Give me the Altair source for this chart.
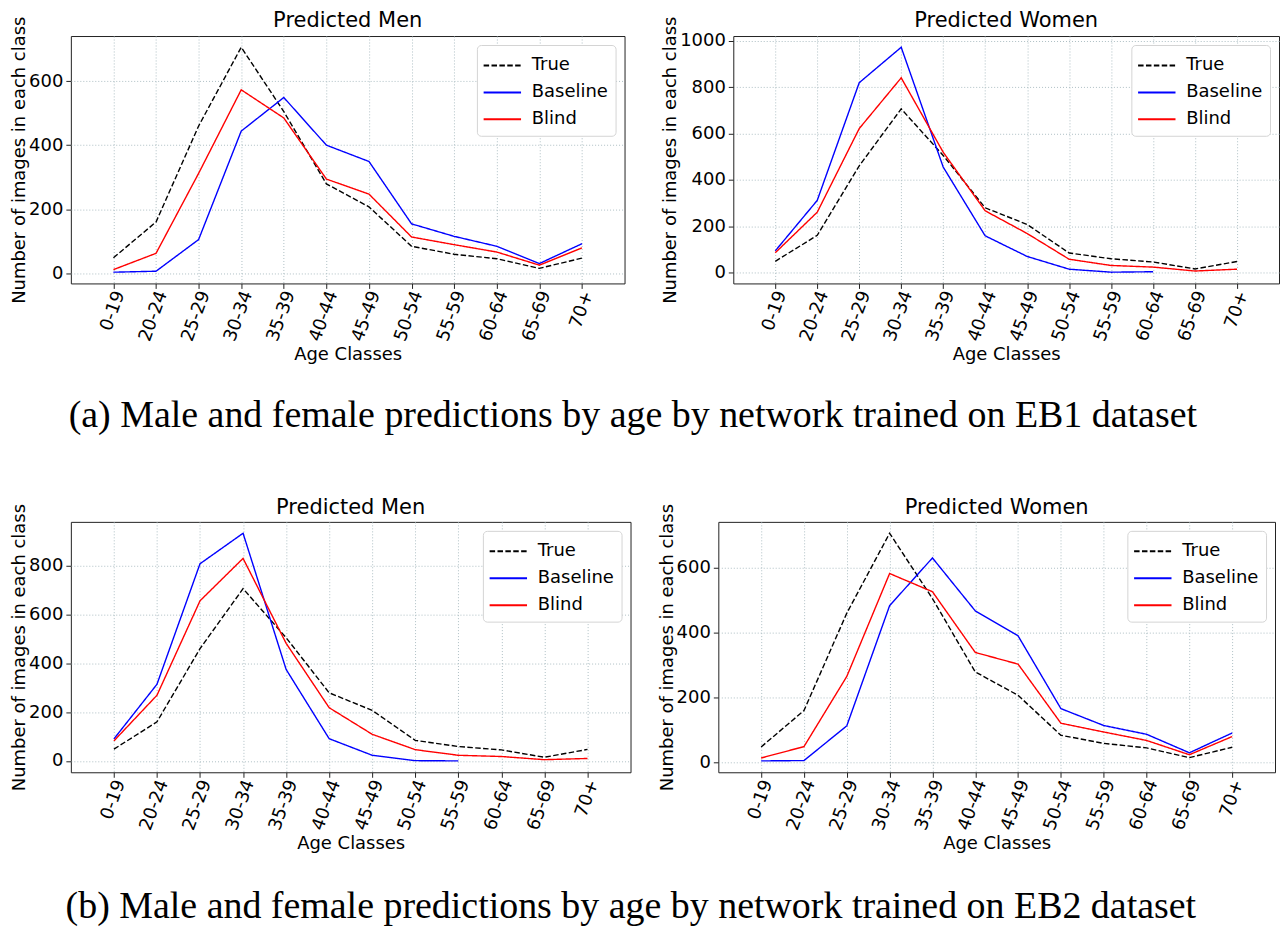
import altair as alt
import pandas as pd

# ---------------- data ----------------
ages = ["0-19", "20-24", "25-29", "30-34", "35-39", "40-44",
        "45-49", "50-54", "55-59", "60-64", "65-69", "70+"]
series_names = ["True", "Baseline", "Blind"]

true_counts = [48, 160, 460, 706, 505, 279, 207, 84, 59, 45, 15, 47]

eb1_men_baseline = [3, 6, 105, 444, 549, 400, 349, 154, 115, 84, 30, 92]
eb1_men_blind = [11, 62, 312, 573, 485, 294, 247, 113, 89, 66, 25, 79]

eb1_women_baseline = [93, 311, 819, 972, 455, 158, 69, 14, 1, 3, None, None]
eb1_women_blind = [85, 260, 621, 840, 519, 266, 168, 57, 30, 23, 6, 14]

eb2_men_baseline = [90, 314, 808, 933, 375, 91, 23, 1, 0, None, None, None]
eb2_men_blind = [82, 269, 656, 830, 482, 218, 109, 46, 23, 18, 5, 10]

eb2_women_baseline = [5, 6, 113, 483, 630, 467, 390, 166, 114, 87, 30, 91]
eb2_women_blind = [14, 49, 265, 582, 526, 339, 303, 121, 94, 68, 24, 80]

yticks_600 = [0, 200, 400, 600]
yticks_800 = [0, 200, 400, 600, 800]
yticks_1000 = [0, 200, 400, 600, 800, 1000]

caption_a = "(a) Male and female predictions by age by network trained on EB1 dataset"
caption_b = "(b) Male and female predictions by age by network trained on EB2 dataset"

FONT = "DejaVu Sans"


def panel(title, baseline, blind, width, height, yticks):
    rows = []
    for name, vals in zip(series_names, [true_counts, baseline, blind]):
        for i, (a, v) in enumerate(zip(ages, vals)):
            if v is not None:
                rows.append({"age": a, "idx": i, "series": name, "count": v})
    df = pd.DataFrame(rows)
    allv = df["count"]
    lo, hi = allv.min(), allv.max()
    m = 0.05 * (hi - lo)

    leg = alt.Legend(
        title=None, orient="top-right", offset=9,
        symbolType="M-1.5,0H1.5", symbolSize=625, symbolStrokeWidth=2,
        symbolOffset=5,
        labelFont=FONT, labelFontSize=18, labelColor="black", labelOffset=16,
        fillColor="white", strokeColor="#d4d4d4", cornerRadius=4,
        padding=7, rowPadding=4,
    )
    return alt.Chart(df).mark_line(strokeWidth=1.4).encode(
        x=alt.X("age:N", sort=ages, title="Age Classes",
                scale=alt.Scale(type="point", padding=1),
                axis=alt.Axis(labelAngle=290, labelPadding=3, labelOffset=6,
                              titlePadding=2)),
        y=alt.Y("count:Q", title="Number of images in each class",
                scale=alt.Scale(domain=[lo - m, hi + m], nice=False, zero=False),
                axis=alt.Axis(values=yticks, format="d", labelPadding=3,
                              titlePadding=0)),
        color=alt.Color("series:N", legend=leg,
                        scale=alt.Scale(domain=series_names,
                                        range=["#000000", "#0000ff", "#ff0000"])),
        strokeDash=alt.StrokeDash("series:N", legend=leg,
                                  scale=alt.Scale(domain=series_names,
                                                  range=[[5.5, 2.4], [1, 0], [1, 0]])),
        order=alt.Order("idx:Q"),
    ).properties(
        title=alt.TitleParams(text=title, frame="group", offset=-15),
        width=width, height=height,
    )


p1 = panel("Predicted Men", eb1_men_baseline, eb1_men_blind, 555, 248, yticks_600)
p2 = panel("Predicted Women", eb1_women_baseline, eb1_women_blind, 547, 248, yticks_1000)
p3 = panel("Predicted Men", eb2_men_baseline, eb2_men_blind, 561, 251, yticks_800)
p4 = panel("Predicted Women", eb2_women_baseline, eb2_women_blind, 558, 251, yticks_600)


def caption(text, offset):
    return alt.TitleParams(text=text, orient="bottom", anchor="middle",
                           font="Liberation Serif", fontSize=38,
                           fontWeight="normal", color="black", offset=offset, dx=-12)


res = dict(x="independent", y="independent", color="independent",
           strokeDash="independent")

row1 = alt.hconcat(p1, p2, spacing=35).resolve_scale(**res).properties(title=caption(caption_a, 33))
row2 = alt.hconcat(p3, p4, spacing=26).resolve_scale(**res).properties(title=caption(caption_b, 35))

chart = alt.vconcat(row1, row2, spacing=61).resolve_scale(**res).properties(
    padding={"left": 2, "top": 0, "right": 0, "bottom": 0}
).configure_view(
    stroke="#222222", strokeWidth=1
).configure_axis(
    grid=True, gridDash=[1, 2], gridColor="#aebfc4", gridWidth=1,
    domain=False, tickColor="#222222", tickSize=5,
    labelFont=FONT, labelFontSize=18, labelColor="black",
    titleFont=FONT, titleFontSize=18, titleFontWeight="normal", titleColor="black",
).configure_title(
    font=FONT, fontSize=21, fontWeight="normal", color="black"
)

chart.save("out.html", embed_options={"renderer": "svg", "actions": False})
